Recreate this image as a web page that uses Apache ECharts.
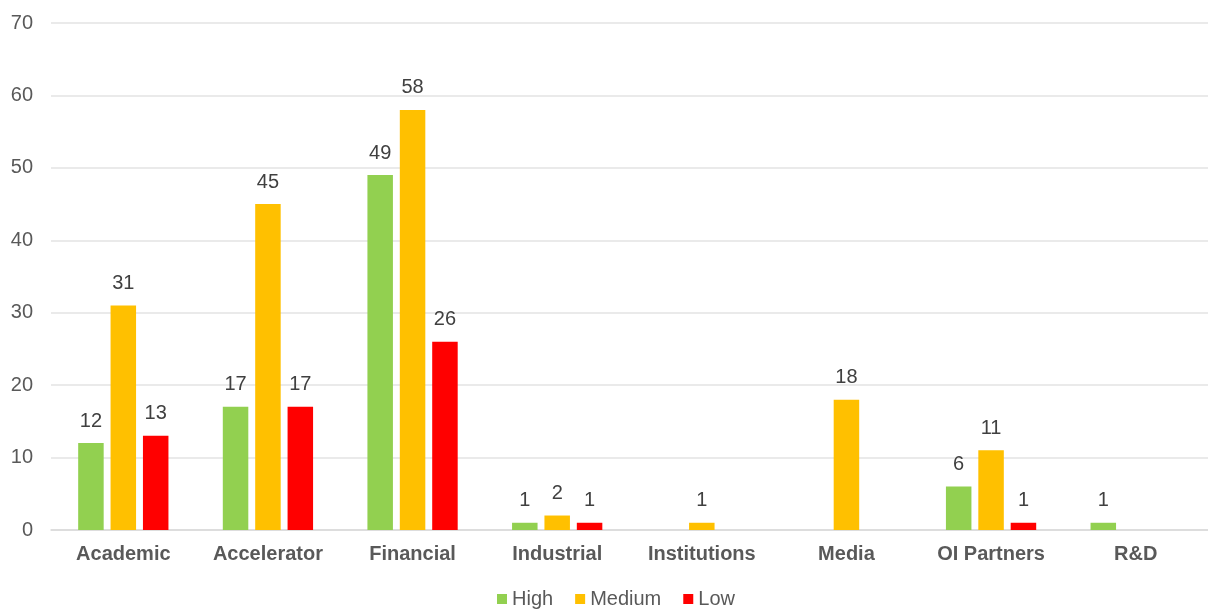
<!DOCTYPE html>
<html><head><meta charset="utf-8">
<script src="https://cdn.jsdelivr.net/npm/echarts@6/dist/echarts.min.js"></script>
<style>html,body{margin:0;padding:0;background:#fff}#c{width:1208px;height:612px}</style>
</head><body><div id="c"></div>
<script>
const categories = ['Academic','Accelerator','Financial','Industrial','Institutions','Media','OI Partners','R&D'];
const high = [12,17,49,1,0,0,6,1];
const medium = [31,45,58,2,1,18,11,0];
const low = [13,17,26,1,0,0,1,0];
const seriesNames = ['High','Medium','Low'];
const colors = ['#92D050','#FFC000','#FF0000'];
const font = 'Liberation Sans, Arial, sans-serif';
const chart = echarts.init(document.getElementById('c'));
function mk(name, data, color){
  return {name, type:'bar', data, barWidth:25.5, barGap:'27%',
    itemStyle:{color},
    label:{show:true, position:'top', distance:12, color:'#404040', fontSize:20, fontFamily:font,
      formatter:p=>p.value===0?'':p.value}};
}
chart.setOption({
  animation:false,
  textStyle:{fontFamily:font},
  grid:{left:51, width:1158, top:23, bottom:82, containLabel:false},
  legend:{bottom:-2, left:492, itemWidth:10, itemHeight:10, itemGap:22, icon:'rect',
    textStyle:{color:'#595959', fontSize:20, fontFamily:font}, data:seriesNames},
  xAxis:{type:'category', data:categories,
    axisLine:{lineStyle:{color:'#d9d9d9', width:1.5}}, axisTick:{show:false},
    axisLabel:{color:'#595959', fontSize:20, fontWeight:'bold', fontFamily:font, margin:14}},
  yAxis:{type:'value', min:0, max:70, interval:10,
    axisLine:{show:false}, axisTick:{show:false},
    splitLine:{lineStyle:{color:'#e3e3e3', width:1.5}},
    axisLabel:{color:'#595959', fontSize:20, fontFamily:font, margin:18}},
  series:[mk(seriesNames[0],high,colors[0]), mk(seriesNames[1],medium,colors[1]), mk(seriesNames[2],low,colors[2])]
});
</script></body></html>
